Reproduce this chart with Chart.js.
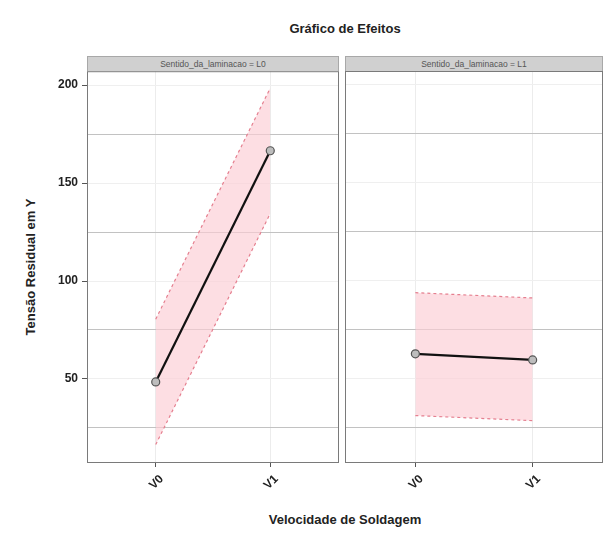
<!DOCTYPE html>
<html>
<head>
<meta charset="utf-8">
<script src="https://cdn.jsdelivr.net/npm/chart.js@4.4.0/dist/chart.umd.min.js"></script>
<style>
  body { margin: 0; background: #fff; font-family: "Liberation Sans", Arial, sans-serif; }
  #wrap { position: relative; width: 615px; height: 534px; overflow: hidden; }
  .abs { position: absolute; }
  .title { top: 21px; left: 87px; width: 516px; text-align: center; font-weight: bold; font-size: 13px; color: #222; }
  .ytitle { left: 30px; top: 267px; transform: translate(-50%, -50%) rotate(-90deg); white-space: nowrap; font-weight: bold; font-size: 13px; color: #222; }
  .xtitle { top: 512px; left: 87px; width: 516px; text-align: center; font-weight: bold; font-size: 13px; color: #222; }
  .strip { top: 56px; height: 15px; background: #d0d0d0; border: 1px solid #a8a8a8; border-bottom: none; box-sizing: border-box;
           font-size: 8.5px; line-height: 14px; text-align: center; color: #555; }
</style>
</head>
<body>
<div id="wrap">
  <div class="abs title">Gráfico de Efeitos</div>
  <div class="abs ytitle">Tensão Residual em Y</div>
  <div class="abs xtitle">Velocidade de Soldagem</div>
  <div class="abs strip" id="strip0" style="left:87px;width:252px"></div>
  <div class="abs strip" id="strip1" style="left:345px;width:258px"></div>
  <canvas id="c0" class="abs" style="left:0;top:71px"></canvas>
  <canvas id="c1" class="abs" style="left:341px;top:71px"></canvas>
</div>
<script>
// valores
const categories = ['V0', 'V1'];
const facetVar = 'Sentido_da_laminacao';
const facets = ['L0', 'L1'];
const meanL0 = [48.5, 166.5];
const lowerL0 = [16.5, 134.5];
const upperL0 = [80.5, 198.5];
const meanL1 = [62.8, 59.7];
const lowerL1 = [31.3, 28.7];
const upperL1 = [94.0, 91.3];
const yTicks = [25, 50, 75, 100, 125, 150, 175, 200];

const FONT = "'Liberation Sans', Arial, sans-serif";
const BAND = 'rgba(252, 205, 212, 0.65)';
const DASH = '#e57f8f';
const AREA_TOP = 71, AREA_H = 392, X_H = 48;

const panelBorder = {
  id: 'panelBorder',
  afterDraw(chart) {
    const a = chart.chartArea, ctx = chart.ctx;
    ctx.save();
    ctx.strokeStyle = '#7a7a7a';
    ctx.lineWidth = 1;
    ctx.strokeRect(a.left + 0.5, a.top + 0.5, a.right - a.left - 1, a.bottom - a.top - 1);
    ctx.restore();
  },
};

function pts(arr) { return arr.map((v, i) => ({ x: i + 1, y: v })); }

function makePanel(id, w, mean, lower, upper, showY, pad) {
  const cv = document.getElementById(id);
  const h0 = AREA_H + X_H;
  cv.width = w; cv.height = h0;
  cv.style.width = w + 'px'; cv.style.height = h0 + 'px';
  const chart = new Chart(cv, {
    type: 'line',
    data: {
      datasets: [
        { data: pts(upper), borderColor: DASH, borderWidth: 1.2, borderDash: [3, 3], pointRadius: 0, fill: '+1', backgroundColor: BAND },
        { data: pts(lower), borderColor: DASH, borderWidth: 1.2, borderDash: [3, 3], pointRadius: 0, fill: false },
        { data: pts(mean), borderColor: '#111', borderWidth: 2.2, pointRadius: 4, pointBackgroundColor: '#bdbdbd',
          pointBorderColor: '#555', pointBorderWidth: 1.2, fill: false, order: -1 },
      ],
    },
    options: {
      responsive: false, maintainAspectRatio: false, animation: false,
      layout: { padding: pad, autoPadding: false },
      plugins: { legend: { display: false }, tooltip: { enabled: false }, filler: { drawTime: 'beforeDatasetsDraw' } },
      scales: {
        x: {
          type: 'linear', min: 0.4, max: 2.6,
          afterBuildTicks: (s) => { s.ticks = categories.map((_, i) => ({ value: i + 1 })); },
          afterFit: (s) => { s.height = X_H; },
          ticks: { callback: (v) => categories[v - 1], minRotation: 45, maxRotation: 45, padding: 5, labelOffset: 6,
                   font: { family: FONT, size: 12, weight: 'bold' }, color: '#222' },
          grid: { color: '#ececec', tickColor: '#555', tickLength: 4 },
          border: { display: false },
        },
        y: {
          min: 7.1, max: 207.1,
          afterBuildTicks: (s) => { s.ticks = yTicks.map((v) => ({ value: v })); },
          afterFit: (s) => { s.width = showY ? 87 : 0; },
          ticks: { display: showY, callback: (v) => (v % 50 === 0 ? v : ''), padding: 4,
                   font: { family: FONT, size: 12, weight: 'bold' }, color: '#222' },
          grid: {
            color: (c) => (c.tick && c.tick.value % 50 === 0 ? '#efefef' : '#c2c2c2'),
            tickColor: (c) => (c.tick && c.tick.value % 50 === 0 ? '#555' : 'rgba(0,0,0,0)'),
            tickLength: 5, drawTicks: showY,
          },
          border: { display: false },
        },
      },
    },
    plugins: [panelBorder],
  });
  // grow the canvas by whatever top padding the layout added, so the plot area is exactly AREA_H tall
  const extra = Math.round(chart.chartArea.bottom - chart.chartArea.top - AREA_H);
  if (extra !== 0) chart.resize(w, h0 - extra);
  cv.style.top = (AREA_TOP - Math.round(chart.chartArea.top)) + 'px';
  return chart;
}

document.getElementById('strip0').textContent = facetVar + ' = ' + facets[0];
document.getElementById('strip1').textContent = facetVar + ' = ' + facets[1];

makePanel('c0', 341, meanL0, lowerL0, upperL0, true, { left: 0, right: 2, top: 0, bottom: 0 });
makePanel('c1', 274, meanL1, lowerL1, upperL1, false, { left: 4, right: 12, top: 0, bottom: 0 });
</script>
</body>
</html>
